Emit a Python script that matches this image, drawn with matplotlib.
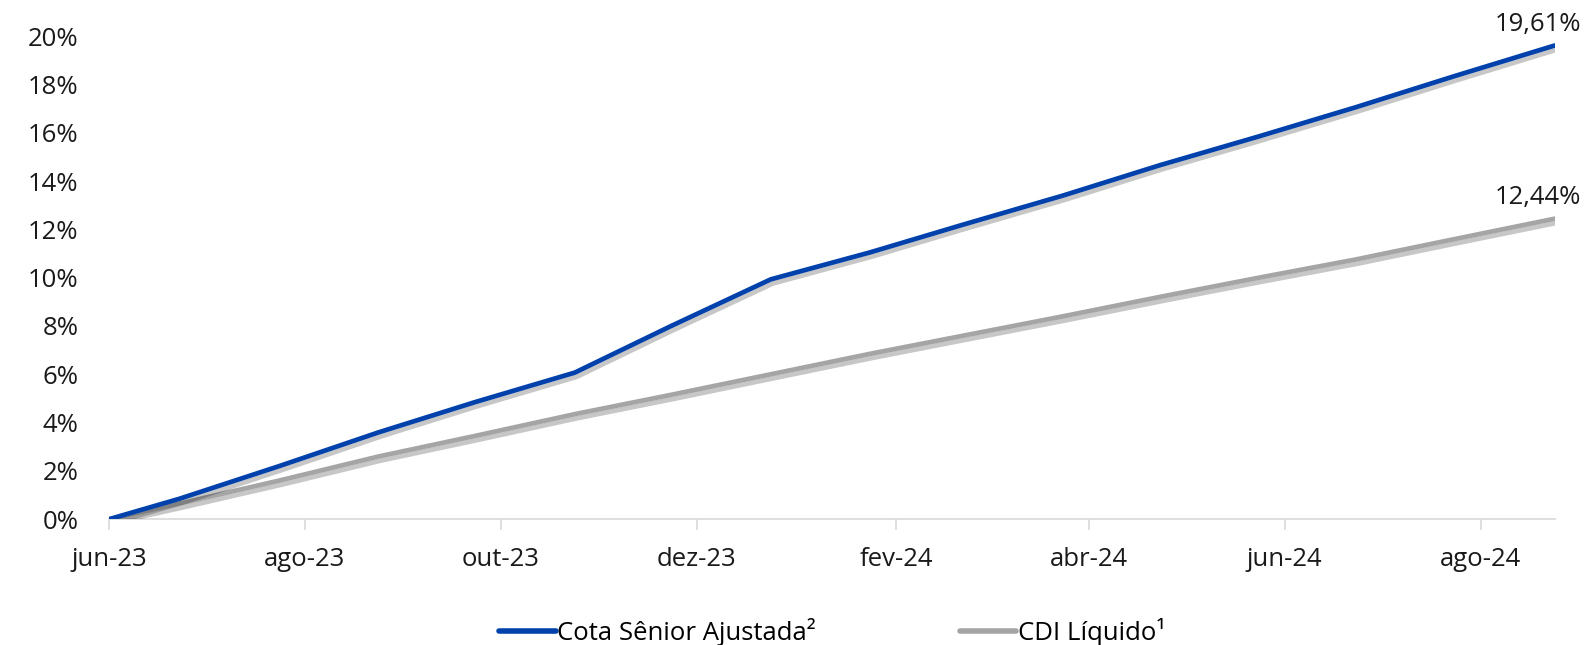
import matplotlib
matplotlib.use("Agg")
import matplotlib.pyplot as plt
import matplotlib.patheffects as pe
from matplotlib.lines import Line2D
import pandas as pd

plt.rcParams['font.family'] = ['Open Sans', 'DejaVu Sans']

# data (cumulative return, %)
dates = ['2023-06-08', '2023-06-30', '2023-07-31', '2023-08-31', '2023-09-30',
         '2023-10-31', '2023-11-30', '2023-12-31', '2024-01-31', '2024-02-29',
         '2024-03-31', '2024-04-30', '2024-05-31', '2024-06-30', '2024-07-31',
         '2024-08-31']
cota_senior = [0.0, 0.85, 2.2, 3.6, 4.85, 6.07, 8.0, 9.93, 11.05, 12.2,
               13.4, 14.65, 15.85, 17.05, 18.35, 19.61]
cdi_liquido = [0.0, 0.65, 1.6, 2.6, 3.45, 4.35, 5.15, 6.0, 6.85, 7.6,
               8.4, 9.2, 10.0, 10.75, 11.6, 12.44]
tick_dates = ['2023-06-08', '2023-08-08', '2023-10-08', '2023-12-08',
              '2024-02-08', '2024-04-08', '2024-06-08', '2024-08-08']
tick_labels = ['jun-23', 'ago-23', 'out-23', 'dez-23',
               'fev-24', 'abr-24', 'jun-24', 'ago-24']
y_ticks = [0, 2, 4, 6, 8, 10, 12, 14, 16, 18, 20]

blue = '#0041AC'
grey = '#A5A5A5'
txt = '#1a1a1a'
fs = 18.5

x = pd.to_datetime(dates)
xt = pd.to_datetime(tick_dates)

fig = plt.figure(figsize=(15.85, 6.45), dpi=100)
ax = fig.add_axes([0.0688, 0.195, 0.912, 0.749])

shadow = [pe.SimpleLineShadow(offset=(1.5, -3), shadow_color='#000000', alpha=0.22),
          pe.Normal()]

ax.plot(x, cdi_liquido, color=grey, lw=3.4, solid_capstyle='round',
        path_effects=shadow, zorder=3)
ax.plot(x, cota_senior, color=blue, lw=3.4, solid_capstyle='round',
        path_effects=shadow, zorder=4)

ax.annotate('19,61%', (x[-1], cota_senior[-1]), xytext=(-12, 6),
            textcoords='offset points', ha='center', va='bottom', fontsize=fs,
            color=txt)
ax.annotate('12,44%', (x[-1], cdi_liquido[-1]), xytext=(-12, 6),
            textcoords='offset points', ha='center', va='bottom', fontsize=fs,
            color=txt)

ax.set_xlim(x[0], x[-1])
ax.set_ylim(0, 20)
ax.set_xticks(xt)
ax.set_xticklabels(tick_labels)
ax.set_yticks(y_ticks)
ax.set_yticklabels([f'{v}%' for v in y_ticks])

for s in ['top', 'right', 'left']:
    ax.spines[s].set_visible(False)
ax.spines['bottom'].set_color('#D9D9D9')
ax.spines['bottom'].set_linewidth(1.2)
ax.tick_params(axis='x', length=8, width=1.2, color='#D9D9D9', pad=12,
               labelsize=fs, labelcolor=txt)
ax.tick_params(axis='y', length=0, pad=22, labelsize=fs, labelcolor=txt)

handles = [Line2D([], [], color=blue, lw=4, solid_capstyle='round'),
           Line2D([], [], color=grey, lw=4, solid_capstyle='round')]
labels = ['Cota Sênior Ajustada²', 'CDI Líquido¹']
fig.legend(handles, labels, loc='center', bbox_to_anchor=(0.525, 0.02), ncol=2,
           frameon=False, fontsize=fs, handlelength=2.2, handletextpad=0.05,
           columnspacing=5.6)

fig.savefig('out.png', dpi=100)
